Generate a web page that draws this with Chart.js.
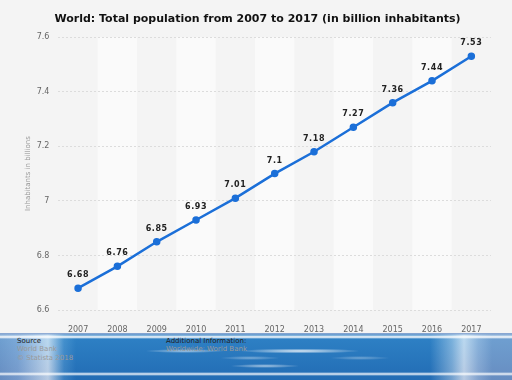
<!DOCTYPE html>
<html>
<head>
<meta charset="utf-8">
<script src="https://cdn.jsdelivr.net/npm/chart.js@4"></script>
<style>
	body { margin: 0; background: #f4f4f4; font-family: 'DejaVu Sans', sans-serif; }
	#wrap { position: relative; width: 512px; height: 380px; overflow: hidden; }
	#chartBox { position: absolute; left: 0; top: 0; width: 512px; height: 333px; }
	#footer {
		position: absolute; left: 0; top: 333px; width: 512px; height: 47px;
		background:
			linear-gradient(to bottom, rgba(140,168,210,0.9) 0, rgba(140,168,210,0.9) 1px, rgba(255,255,255,0.2) 2px, #ffffff 4px, rgba(255,255,255,0) 6px, rgba(255,255,255,0) 39px, rgba(255,255,255,0.9) 41px, rgba(255,255,255,0) 43px),
			radial-gradient(ellipse 60px 2.5px at 300px 18px, rgba(255,255,255,0.85), rgba(255,255,255,0)),
			radial-gradient(ellipse 40px 2px at 185px 18px, rgba(255,255,255,0.6), rgba(255,255,255,0)),
			radial-gradient(ellipse 35px 2px at 265px 33px, rgba(255,255,255,0.6), rgba(255,255,255,0)),
			radial-gradient(ellipse 30px 2px at 250px 25px, rgba(255,255,255,0.4), rgba(255,255,255,0)),
			radial-gradient(ellipse 30px 2px at 360px 25px, rgba(255,255,255,0.35), rgba(255,255,255,0)),
			linear-gradient(to bottom, rgba(60,150,215,0.35), rgba(20,80,160,0.3)),
			linear-gradient(to right, #8ba7cf 0, #9fb8dc 18px, #ffffff 48px, #4a92cc 64px, #2878bd 76px, #2878bd 430px, #9cc3e2 452px, #ffffff 464px, #b4c7e2 478px, #8ba7cf 492px);
	}
	#footer .col { position: absolute; top: 4px; font-size: 7px; line-height: 8.3px; }
	#footer .h { color: #222; }
	#footer .g { color: #9a9a9a; }
</style>
</head>
<body>
<div id="wrap">
	<div id="chartBox"><canvas id="popChart" width="512" height="333"></canvas></div>
	<div id="footer">
		<div class="col" style="left:17px"><div class="h">Source</div><div class="g">World Bank</div><div class="g">©  Statista 2018</div></div>
		<div class="col" style="left:166px"><div class="h">Additional Information:</div><div class="g">Worldwide; World Bank</div></div>
	</div>
</div>
<script>
// data block
const years = ['2007', '2008', '2009', '2010', '2011', '2012', '2013', '2014', '2015', '2016', '2017'];
const population = [6.68, 6.76, 6.85, 6.93, 7.01, 7.1, 7.18, 7.27, 7.36, 7.44, 7.53];
const yTicks = [6.6, 6.8, 7, 7.2, 7.4, 7.6];

// alternating column bands behind the plot
const bandPlugin = {
	id: 'bands',
	beforeDraw(chart) {
		const { ctx, chartArea, scales } = chart;
		const x = scales.x;
		const w = x.getPixelForValue(1) - x.getPixelForValue(0);
		ctx.save();
		ctx.fillStyle = '#fafafa';
		years.forEach((y, i) => {
			if (i % 2 === 1) {
				const c = x.getPixelForValue(i);
				ctx.fillRect(c - w / 2, chartArea.top, w, chartArea.bottom - chartArea.top);
			}
		});
		ctx.restore();
	},
};

// value labels above each point
const labelPlugin = {
	id: 'valueLabels',
	afterDatasetsDraw(chart) {
		const { ctx } = chart;
		const meta = chart.getDatasetMeta(0);
		ctx.save();
		ctx.font = 'bold 8px "DejaVu Sans"';
		ctx.letterSpacing = '0.6px';
		ctx.fillStyle = '#222';
		ctx.textAlign = 'center';
		ctx.textBaseline = 'middle';
		meta.data.forEach((pt, i) => {
			ctx.fillText(String(population[i]), pt.x, pt.y - 13);
		});
		ctx.restore();
	},
};

const config = {
	type: 'line',
	data: {
		labels: years,
		datasets: [
			{
				data: population,
				borderColor: '#1b6fd8',
				backgroundColor: '#1b6fd8',
				borderWidth: 2.5,
				pointRadius: 2.5,
				pointHoverRadius: 2.5,
				tension: 0,
			},
		],
	},
	options: {
		responsive: false,
		animation: false,
		layout: { padding: { left: 24, right: 21, top: 0, bottom: 0 } },
		plugins: {
			legend: { display: false },
			tooltip: { enabled: false },
			title: {
				display: true,
				text: 'World: Total population from 2007 to 2017 (in billion inhabitants)',
				color: '#111',
				font: { family: 'DejaVu Sans', size: 11, weight: 'bold' },
				padding: { top: 13, bottom: 11 },
			},
		},
		scales: {
			x: {
				offset: true,
				grid: { display: false },
				border: { display: false },
				ticks: { color: '#666', font: { family: 'DejaVu Sans', size: 8 }, padding: 7 },
				afterFit: (s) => { s.height = 23; },
			},
			y: {
				min: 6.6,
				max: 7.6,
				afterBuildTicks: (s) => { s.ticks = yTicks.map((v) => ({ value: v })); },
				grid: { color: '#dcdcdc', drawTicks: false },
				border: { display: false, dash: [2, 2] },
				ticks: {
					color: '#666',
					font: { family: 'DejaVu Sans', size: 8 },
					padding: 9,
					callback: (v) => String(v),
				},
				title: {
					display: true,
					text: 'Inhabitants in billions',
					color: '#999',
					font: { family: 'DejaVu Sans', size: 7 },
					padding: 0,
				},
				afterFit: (s) => { s.width = 34.4; },
			},
		},
	},
	plugins: [bandPlugin, labelPlugin],
};

const popChart = new Chart(document.getElementById('popChart'), config);
</script>
</body>
</html>
